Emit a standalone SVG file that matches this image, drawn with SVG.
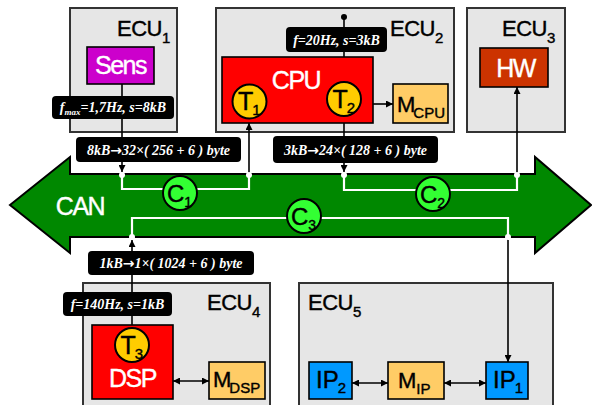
<svg xmlns="http://www.w3.org/2000/svg" width="592" height="405" viewBox="0 0 592 405">
  <defs>
    <marker id="ah" viewBox="0 0 10 10" refX="10" refY="5" markerWidth="7" markerHeight="7" markerUnits="userSpaceOnUse" orient="auto-start-reverse">
      <path d="M0,0 L10,5 L0,10 z" fill="#000"/>
    </marker>
    <style>
      .ecu { fill: #e6e6e6; stroke: #333; stroke-width: 2; }
      .ecut { font-family: "Liberation Sans", Arial, sans-serif; font-size: 22px; letter-spacing: -0.5px; fill: #000; stroke: #000; stroke-width: 0.4; }
      .sub { font-size: 15px; letter-spacing: 0; }
      .big { font-family: "Liberation Sans", Arial, sans-serif; font-size: 25px; letter-spacing: -1.5px; fill: #fff; stroke: #fff; stroke-width: 0.4; text-anchor: middle; }
      .lbl { fill: #000; }
      .lt { font-family: "Liberation Serif", "Times New Roman", serif; font-style: italic; font-weight: bold; font-size: 14px; fill: #fff; text-anchor: middle; }
      .arr { font-family: "DejaVu Sans", sans-serif; font-style: normal; font-weight: bold; font-size: 14px; }
      .wire { fill: none; stroke: #000; stroke-width: 1.6; }
      .bus { fill: none; stroke: #fff; stroke-width: 2.2; }
      .dot { fill: #fff; }
      .tc { fill: #ffcc00; stroke: #000; stroke-width: 2; }
      .cc { fill: #33ff33; stroke: #000; stroke-width: 2; }
      .mem { fill: #ffcc66; stroke: #000; stroke-width: 1.6; }
      .ip { fill: #0099ff; stroke: #000; stroke-width: 1.6; }
      .ct { font-family: "Liberation Sans", Arial, sans-serif; fill: #000; stroke: #000; stroke-width: 0.4; }
    </style>
  </defs>

  <!-- ECU enclosures -->
  <g id="ecu1">
    <rect class="ecu" x="70" y="8" width="107" height="124"/>
    <text class="ecut" x="117" y="36">ECU<tspan class="sub" dy="7">1</tspan></text>
  </g>
  <g id="ecu2">
    <rect class="ecu" x="216" y="8" width="238" height="124"/>
    <text class="ecut" x="390" y="36">ECU<tspan class="sub" dy="7">2</tspan></text>
  </g>
  <g id="ecu3">
    <rect class="ecu" x="467" y="8" width="98" height="124"/>
    <text class="ecut" x="502" y="36">ECU<tspan class="sub" dy="7">3</tspan></text>
  </g>
  <g id="ecu4">
    <rect class="ecu" x="83" y="283" width="187" height="130"/>
    <text class="ecut" x="207" y="310">ECU<tspan class="sub" dy="7">4</tspan></text>
  </g>
  <g id="ecu5">
    <rect class="ecu" x="299" y="283" width="254" height="130"/>
    <text class="ecut" x="308" y="310">ECU<tspan class="sub" dy="7">5</tspan></text>
  </g>

  <!-- CAN bus arrow -->
  <g id="can">
    <polygon points="10,205 70,157 70,174 535,174 535,157 591,205 535,253 535,237 70,237 70,253" fill="#008800" stroke="#000" stroke-width="2"/>
    <text class="big" x="80" y="215" font-size="24">CAN</text>
  </g>

  <!-- connectors -->
  <g id="connectors">
    <path class="bus" d="M122,175 V189 H249 V175"/>
    <path class="bus" d="M344,175 V190 H517 V175"/>
    <path class="bus" d="M132,237 V218 H508 V237"/>
    <line class="wire" x1="122" y1="84" x2="122" y2="172" marker-end="url(#ah)"/>
    <line class="wire" x1="249" y1="175" x2="249" y2="123" marker-end="url(#ah)"/>
    <line class="wire" x1="344" y1="17" x2="344" y2="83" marker-end="url(#ah)"/>
    <line class="wire" x1="344" y1="118" x2="344" y2="172" marker-end="url(#ah)"/>
    <line class="wire" x1="517" y1="175" x2="517" y2="87" marker-end="url(#ah)"/>
    <line class="wire" x1="132" y1="325" x2="132" y2="240" marker-end="url(#ah)"/>
    <line class="wire" x1="508" y1="237" x2="508" y2="362" marker-end="url(#ah)"/>
    <line class="wire" x1="364" y1="104" x2="393" y2="104" marker-start="url(#ah)" marker-end="url(#ah)"/>
    <line class="wire" x1="173" y1="381" x2="209" y2="381" marker-start="url(#ah)" marker-end="url(#ah)"/>
    <line class="wire" x1="352" y1="383" x2="388" y2="383" marker-start="url(#ah)" marker-end="url(#ah)"/>
    <line class="wire" x1="444" y1="383" x2="486" y2="383" marker-start="url(#ah)" marker-end="url(#ah)"/>
    <circle cx="344" cy="17" r="3" fill="#000"/>
    <circle class="dot" cx="122" cy="175" r="3"/>
    <circle class="dot" cx="249" cy="175" r="3"/>
    <circle class="dot" cx="344" cy="175" r="3"/>
    <circle class="dot" cx="517" cy="175" r="3"/>
    <circle class="dot" cx="132" cy="237" r="3"/>
    <circle class="dot" cx="508" cy="237" r="3"/>
  </g>

  <!-- message circles on the bus -->
  <g id="c1">
    <circle class="cc" cx="180" cy="193" r="17"/>
    <text class="ct" x="167" y="202" font-size="24">C<tspan font-size="14" dy="5">1</tspan></text>
  </g>
  <g id="c2">
    <circle class="cc" cx="433" cy="194" r="17"/>
    <text class="ct" x="420" y="203" font-size="24">C<tspan font-size="14" dy="5">2</tspan></text>
  </g>
  <g id="c3">
    <circle class="cc" cx="304" cy="216" r="17"/>
    <text class="ct" x="291" y="225" font-size="24">C<tspan font-size="14" dy="5">3</tspan></text>
  </g>

  <!-- components -->
  <g id="sens">
    <rect x="87" y="47" width="67" height="37" fill="#cc00cc" stroke="#000" stroke-width="1.6"/>
    <text class="big" x="120.5" y="74">Sens</text>
  </g>
  <g id="cpu">
    <rect x="222" y="57" width="151" height="66" fill="#ff0000" stroke="#000" stroke-width="1.6"/>
    <text class="big" x="296" y="89">CPU</text>
  </g>
  <g id="t1">
    <circle class="tc" cx="249.5" cy="101.5" r="17"/>
    <text class="ct" x="238" y="110" font-size="25">T<tspan font-size="15" dx="-1" dy="5">1</tspan></text>
  </g>
  <g id="t2">
    <circle class="tc" cx="344" cy="99" r="17"/>
    <text class="ct" x="332.5" y="107.5" font-size="25">T<tspan font-size="15" dx="-1" dy="5">2</tspan></text>
  </g>
  <g id="mcpu">
    <rect class="mem" x="393" y="84" width="55" height="39"/>
    <text class="ct" x="397" y="112" font-size="22">M<tspan font-size="15" dx="-2" dy="6">CPU</tspan></text>
  </g>
  <g id="hw">
    <rect x="480" y="48" width="68" height="39" fill="#cc3300" stroke="#000" stroke-width="1.6"/>
    <text class="big" x="515.5" y="77">HW</text>
  </g>
  <g id="dsp">
    <rect x="92" y="325" width="81" height="74" fill="#ff0000" stroke="#000" stroke-width="1.6"/>
    <text class="big" x="132.5" y="387" font-size="24">DSP</text>
  </g>
  <g id="t3">
    <circle class="tc" cx="132" cy="345" r="17"/>
    <text class="ct" x="120.5" y="353.5" font-size="25">T<tspan font-size="15" dx="-1" dy="5">3</tspan></text>
  </g>
  <g id="mdsp">
    <rect class="mem" x="209" y="362" width="56" height="37"/>
    <text class="ct" x="213" y="387" font-size="22">M<tspan font-size="15" dx="-2" dy="6">DSP</tspan></text>
  </g>
  <g id="ip2">
    <rect class="ip" x="309" y="362" width="43" height="37"/>
    <text class="ct" x="316" y="388" font-size="24">IP<tspan font-size="15" dx="-1" dy="5">2</tspan></text>
  </g>
  <g id="mip">
    <rect class="mem" x="388" y="362" width="56" height="37"/>
    <text class="ct" x="398" y="388" font-size="22">M<tspan font-size="15" dy="6">IP</tspan></text>
  </g>
  <g id="ip1">
    <rect class="ip" x="486" y="362" width="42" height="37"/>
    <text class="ct" x="493" y="388" font-size="24">IP<tspan font-size="15" dx="-1" dy="5">1</tspan></text>
  </g>

  <!-- annotation labels -->
  <g id="lbl-sens">
    <rect class="lbl" x="52" y="96" width="122" height="23" rx="4"/>
    <text class="lt" x="113" y="112">f<tspan font-size="9" dy="3">max</tspan><tspan dy="-3">=1,7Hz, s=8kB</tspan></text>
  </g>
  <g id="lbl-c1">
    <rect class="lbl" x="76" y="137" width="165" height="25" rx="4"/>
    <text class="lt" x="158.5" y="154.5">8kB<tspan class="arr">→</tspan>32×( 256 + 6 ) byte</text>
  </g>
  <g id="lbl-t2">
    <rect class="lbl" x="286" y="27" width="101" height="25" rx="4"/>
    <text class="lt" x="336.5" y="44.5">f=20Hz, s=3kB</text>
  </g>
  <g id="lbl-c2">
    <rect class="lbl" x="273" y="136" width="165" height="27" rx="4"/>
    <text class="lt" x="355.5" y="154.5">3kB<tspan class="arr">→</tspan>24×( 128 + 6 ) byte</text>
  </g>
  <g id="lbl-c3">
    <rect class="lbl" x="88" y="251" width="166" height="24" rx="4"/>
    <text class="lt" x="171" y="268">1kB<tspan class="arr">→</tspan>1×( 1024 + 6 ) byte</text>
  </g>
  <g id="lbl-t3">
    <rect class="lbl" x="63" y="292" width="109" height="24" rx="4"/>
    <text class="lt" x="117.5" y="309">f=140Hz, s=1kB</text>
  </g>
</svg>
